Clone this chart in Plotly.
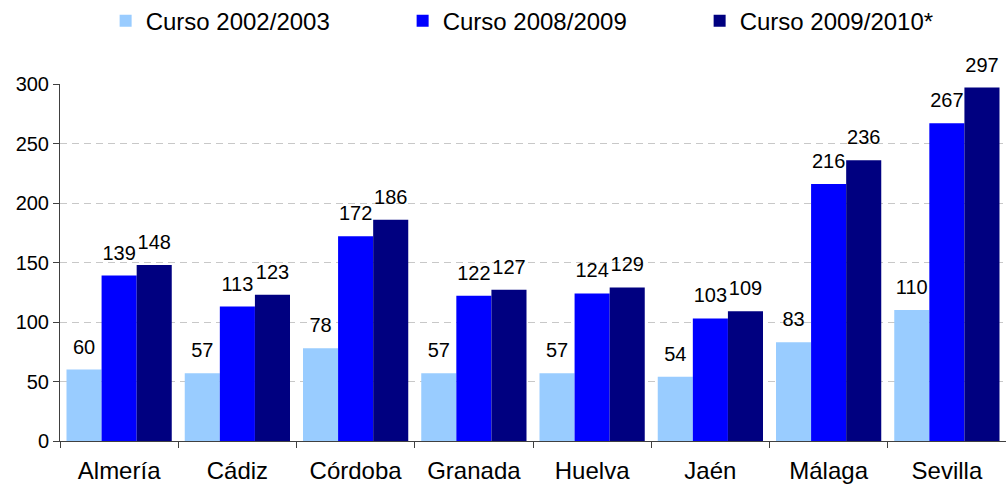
import plotly.graph_objects as go

provincias = ["Almería", "Cádiz", "Córdoba", "Granada", "Huelva", "Jaén", "Málaga", "Sevilla"]
curso_2002_2003 = [60, 57, 78, 57, 57, 54, 83, 110]
curso_2008_2009 = [139, 113, 172, 122, 124, 103, 216, 267]
curso_2009_2010 = [148, 123, 186, 127, 129, 109, 236, 297]

series = [
    ("Curso 2002/2003", curso_2002_2003, "#99CCFF"),
    ("Curso 2008/2009", curso_2008_2009, "#0000FF"),
    ("Curso 2009/2010*", curso_2009_2010, "#000080"),
]

FONT = "Liberation Sans, Arial, sans-serif"

fig = go.Figure()
for i, (name, vals, color) in enumerate(series):
    fig.add_trace(go.Bar(
        x=provincias, y=vals, name=name, offsetgroup=str(i),
        marker=dict(color=color, line=dict(width=0)),
    ))
for i, (name, vals, color) in enumerate(series):
    fig.add_trace(go.Scatter(
        x=provincias, y=vals, name=name, offsetgroup=str(i), showlegend=False,
        mode="markers+text", text=[str(v) for v in vals], textposition="top center",
        marker=dict(size=16, color="rgba(0,0,0,0)", line=dict(width=0)),
        textfont=dict(family=FONT, size=20, color="black"),
        cliponaxis=False, hoverinfo="skip",
    ))

fig.update_layout(
    width=1006, height=491,
    margin=dict(l=60, r=0, t=84, b=50, autoexpand=False),
    paper_bgcolor="white", plot_bgcolor="white",
    barmode="group", bargap=0.11, bargroupgap=0,
    scattermode="group", scattergap=0.11,
    font=dict(family=FONT, size=20, color="black"),
    showlegend=True,
    legend=dict(
        orientation="h", xref="container", yref="container",
        x=0.105, y=0.957, xanchor="left", yanchor="middle",
        font=dict(family=FONT, size=24, color="black"),
        entrywidth=252, entrywidthmode="pixels",
        traceorder="normal", bgcolor="rgba(0,0,0,0)",
    ),
)
fig.update_xaxes(
    type="category", showgrid=False, showline=True, linecolor="#404040", linewidth=1,
    ticks="outside", tickson="boundaries", ticklen=6, tickcolor="#404040",
    tickfont=dict(family=FONT, size=24, color="black"), automargin=False,
    ticklabelstandoff=8,
)
fig.update_yaxes(
    range=[0, 300], tickvals=[0, 50, 100, 150, 200, 250, 300],
    showgrid=True, gridcolor="#C8C8C8", griddash="7px,5px", gridwidth=1,
    showline=True, linecolor="#404040", linewidth=1,
    ticks="outside", ticklen=6, tickcolor="#404040",
    tickfont=dict(family=FONT, size=20, color="black"),
    zeroline=False, automargin=False,
)

fig.write_html(
    "out.html",
    config={"displayModeBar": False},
    post_script="document.body.style.margin='0';document.body.style.overflow='hidden';",
)
